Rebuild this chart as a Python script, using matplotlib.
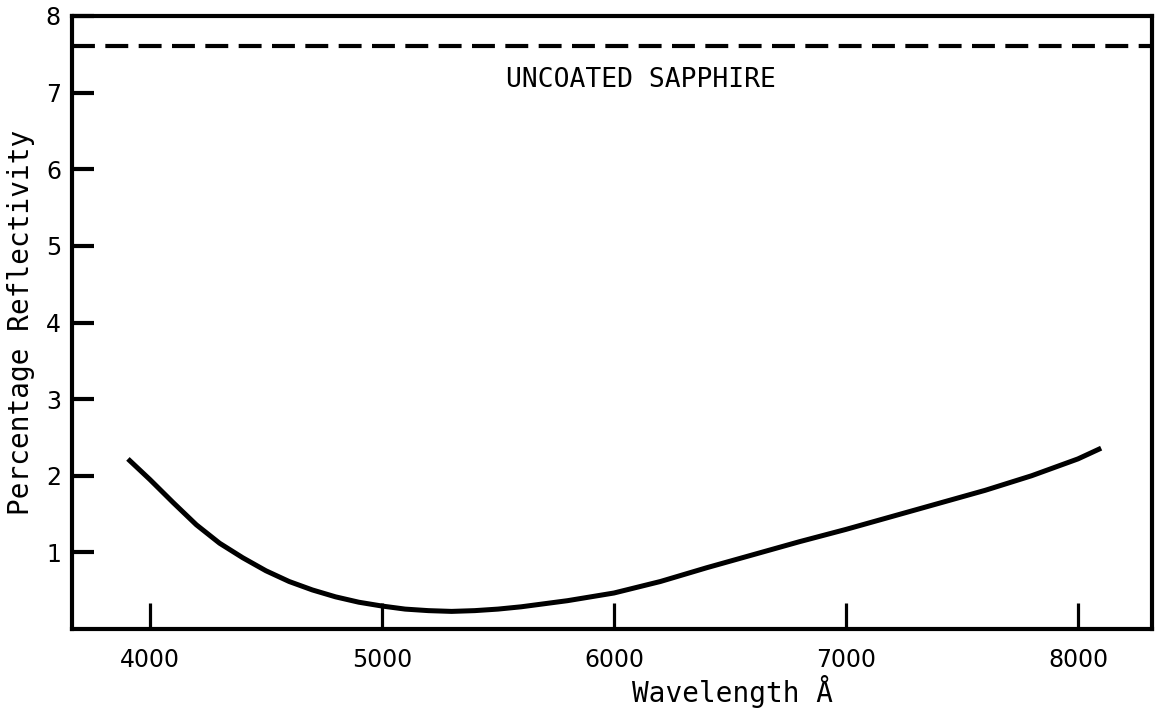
import matplotlib
matplotlib.use("Agg")
from matplotlib import pyplot as plt

# Reflectivity curve
wavelength = [3905, 4000, 4100, 4200, 4300, 4400, 4500, 4600, 4700, 4800,
              4900, 5000, 5100, 5200, 5300, 5400, 5500, 5600, 5700, 5800,
              5900, 6000, 6200, 6400, 6600, 6800, 7000, 7200, 7400, 7600,
              7800, 8000, 8100]
reflectivity = [2.22, 1.95, 1.65, 1.36, 1.12, 0.93, 0.76, 0.62, 0.51, 0.42,
                0.35, 0.30, 0.26, 0.24, 0.23, 0.24, 0.26, 0.29, 0.33, 0.37,
                0.42, 0.47, 0.62, 0.80, 0.97, 1.14, 1.30, 1.47, 1.64, 1.81,
                2.00, 2.22, 2.36]

sapphire_level = 7.61
sapphire_label = "UNCOATED SAPPHIRE"

xticks = [4000, 5000, 6000, 7000, 8000]
yticks = [1, 2, 3, 4, 5, 6, 7, 8]

fig = plt.figure(figsize=(11.56, 7.11), dpi=100)
ax = fig.add_axes([0.0623, 0.1153, 0.9342, 0.8622])

ax.plot(wavelength, reflectivity, color="black", lw=3.6,
        solid_capstyle="butt", solid_joinstyle="round")
ax.axhline(sapphire_level, color="black", lw=3, linestyle=(0, (5.5, 2.5)))
ax.text(0.527, 0.896, sapphire_label, transform=ax.transAxes,
        family="DejaVu Sans Mono", fontsize=19, ha="center", va="center")

ax.set_xlim(3664, 8319)
ax.set_ylim(0, 8)
ax.set_xticks(xticks)
ax.set_yticks(yticks)
ax.tick_params(axis="x", direction="in", length=19, width=2.3, pad=14, labelsize=17)
ax.tick_params(axis="y", direction="in", length=16, width=3, pad=8, labelsize=17)
for s in ax.spines.values():
    s.set_linewidth(3)

ax.set_ylabel("Percentage Reflectivity", family="DejaVu Sans Mono", fontsize=20,
              labelpad=8)
fig.text(733 / 1156, 1 - 692 / 711, "Wavelength Å", family="DejaVu Sans Mono",
         fontsize=20, ha="center", va="center")

fig.savefig("out.png", dpi=100)
